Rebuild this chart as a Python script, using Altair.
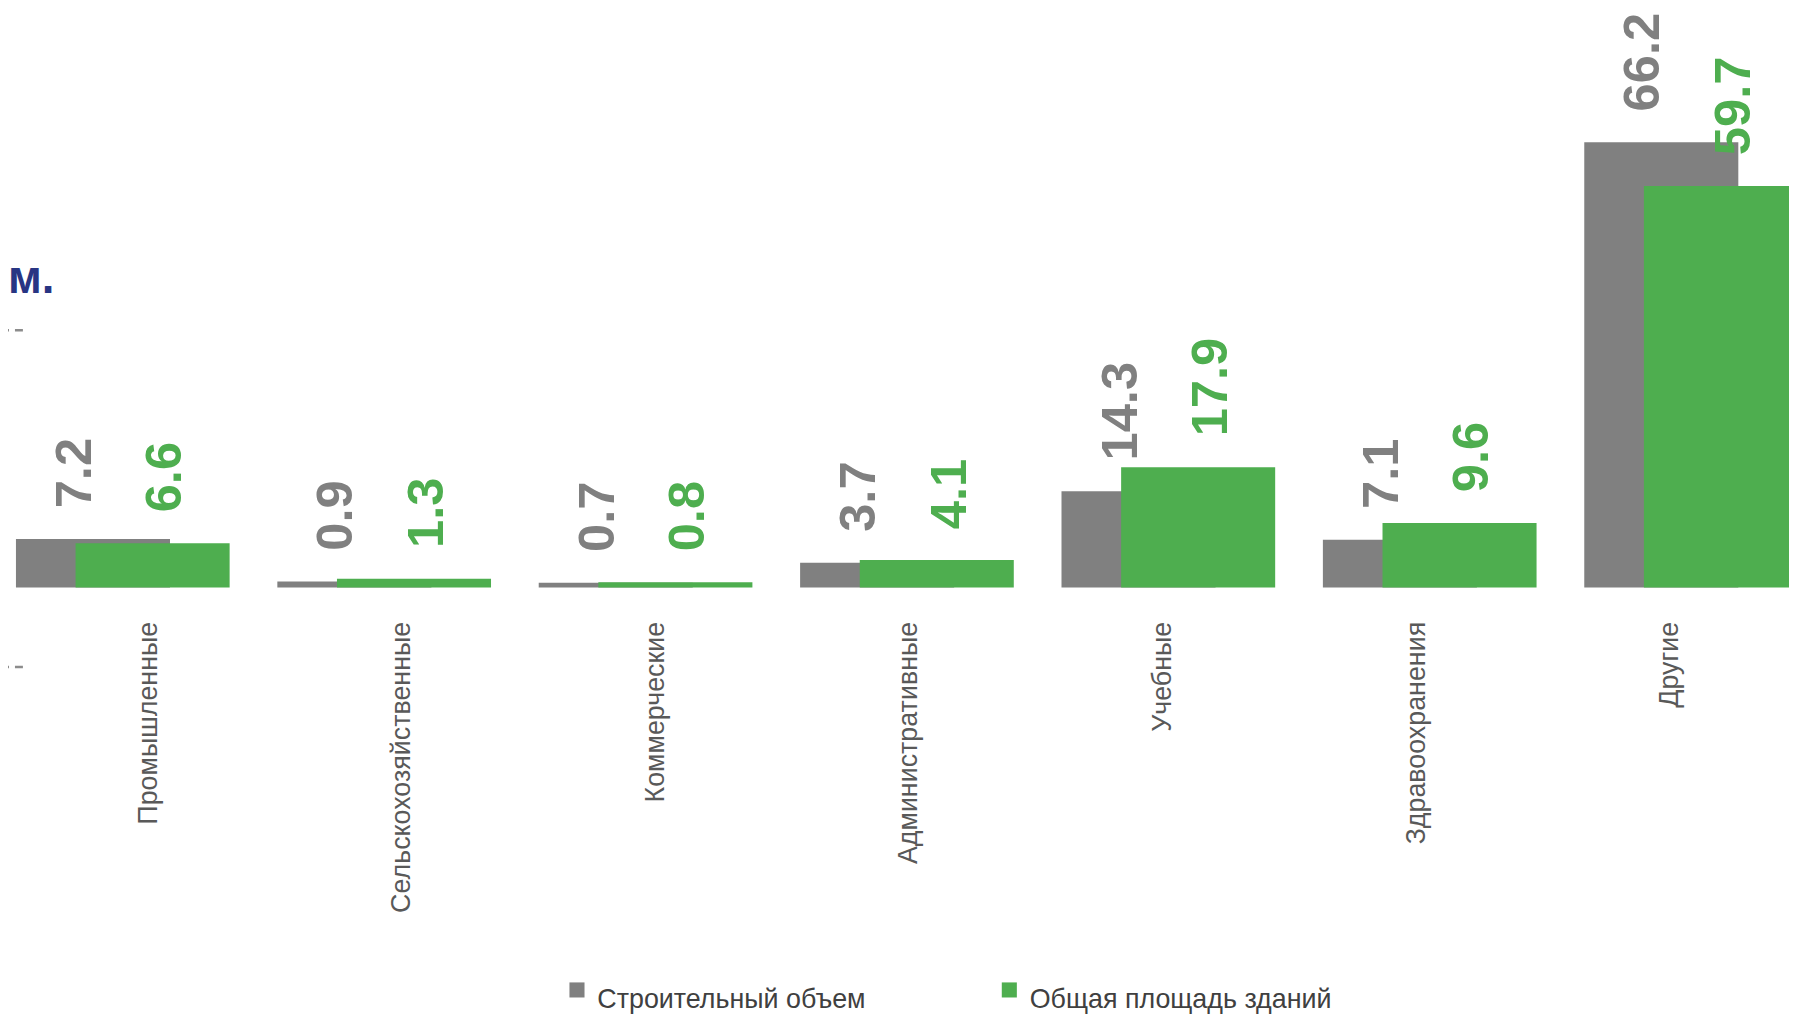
import altair as alt
import pandas as pd

categories = ["Промышленные", "Сельскохозяйственные", "Коммерческие",
              "Административные", "Учебные", "Здравоохранения", "Другие"]
volume = [7.2, 0.9, 0.7, 3.7, 14.3, 7.1, 66.2]
area = [6.6, 1.3, 0.8, 4.1, 17.9, 9.6, 59.7]
series = ["Строительный объем", "Общая площадь зданий"]
colors = ["#808080", "#4EAE4F"]
unit_fragment = "м."

rows = []
for c, v, a in zip(categories, volume, area):
    rows.append({"cat": c, "series": series[0], "value": v, "label": f"{v:.1f}"})
    rows.append({"cat": c, "series": series[1], "value": a, "label": f"{a:.1f}"})
df = pd.DataFrame(rows)

base = alt.Chart(df)

xbar = alt.X("cat:N", scale=alt.Scale(domain=categories, range=[-16, 1825],
                                      paddingInner=0, paddingOuter=0), axis=None)
yval = alt.Y("value:Q", scale=alt.Scale(domain=[0, 85.7], nice=False), axis=None)
color = alt.Color(
    "series:N",
    scale=alt.Scale(domain=series, range=colors),
    legend=alt.Legend(
        title=None, orient="none", legendX=559, legendY=981, direction="horizontal",
        symbolType="M-1,-2.3H1V-0.3H-1Z", symbolSize=230, symbolStrokeWidth=0,
        labelFont="Liberation Sans Narrow, Arial Narrow, Liberation Sans, Arial",
        labelFontSize=27, labelColor="#404040",
        labelOffset=7, columnPadding=131, labelLimit=0, padding=0,
    ),
)

gray_bars = base.transform_filter(alt.datum.series == series[0]).mark_bar(
    size=155, xOffset=-30).encode(x=xbar, y=yval, color=color)
green_bars = base.transform_filter(alt.datum.series == series[1]).mark_bar(
    size=155, xOffset=30).encode(x=xbar, y=yval, color=color)

label_style = dict(angle=270, align="left", baseline="middle", fontSize=51,
                   fontWeight="bold", font="Liberation Sans", yOffset=-31)
gray_text = base.transform_filter(alt.datum.series == series[0]).mark_text(
    xOffset=-47, color=colors[0], **label_style).encode(x=xbar, y=yval, text="label:N")
green_text = base.transform_filter(alt.datum.series == series[1]).mark_text(
    xOffset=44, color=colors[1], **label_style).encode(x=xbar, y=yval, text="label:N")

axis_layer = alt.Chart(pd.DataFrame({"cat": categories})).mark_point(opacity=0).encode(
    x=alt.X("cat:N",
            scale=alt.Scale(domain=categories, range=[13.4, 1799.8],
                            paddingInner=0, paddingOuter=0),
            axis=alt.Axis(title=None, orient="bottom", labelAngle=270, labelPadding=34,
                          ticks=False, tickSize=0, domain=False, grid=False,
                          labelFont="Liberation Sans", labelFontSize=27,
                          labelColor="#595959", labelLimit=0, labelOverlap=False)),
    y=alt.value(0),
)

unit_text = alt.Chart(pd.DataFrame({"t": [unit_fragment]})).mark_text(
    align="left", baseline="alphabetic", fontSize=46, fontWeight="bold",
    font="Liberation Sans", color="#283583",
).encode(text="t:N", x=alt.value(0), y=alt.value(284))

dash_df = pd.DataFrame({"k": [0]})
dash_style = dict(strokeDash=[1, 6, 8, 100], color="#8C8C8C", strokeWidth=2.5)
rule1 = alt.Chart(dash_df).mark_rule(**dash_style).encode(
    x=alt.value(0), x2=alt.value(16), y=alt.value(321))
rule2 = alt.Chart(dash_df).mark_rule(**dash_style).encode(
    x=alt.value(0), x2=alt.value(16), y=alt.value(660))

chart = alt.layer(
    gray_bars, green_bars, gray_text, green_text, axis_layer, unit_text, rule1, rule2
).resolve_scale(x="independent").properties(
    width=1792, height=580,
    padding={"left": 0, "top": 0, "right": 0, "bottom": 432},
    autosize=alt.AutoSizeParams(type="none"),
).configure_view(stroke=None)

chart.save("out.html", embed_options={"renderer": "svg", "actions": False})
